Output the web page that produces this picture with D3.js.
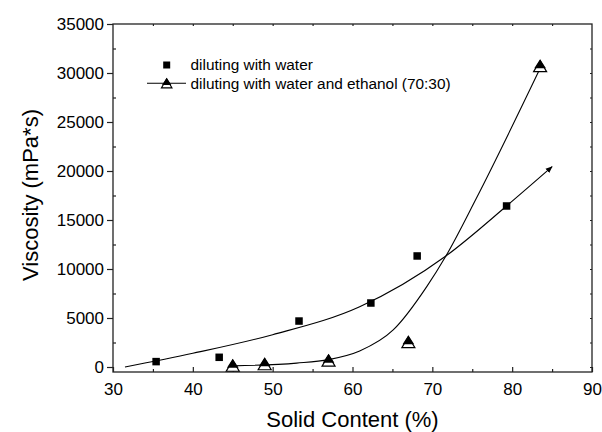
<!DOCTYPE html>
<html>
<head>
<meta charset="utf-8">
<script src="https://cdn.jsdelivr.net/npm/d3@7"></script>
<style>
  body { margin: 0; background: #fff; }
  svg { font-family: "Liberation Sans", Arial, sans-serif; }
</style>
</head>
<body>
<div id="chart"></div>
<script>
const waterX = [35.4, 43.3, 53.3, 62.3, 68.1, 79.3];
const waterY = [550, 990, 4690, 6530, 11330, 16430];
const ethX = [45.0, 49.0, 57.0, 67.0, 83.5];
const ethY = [180, 330, 700, 2580, 30750];

// hand-drawn trend lines
const waterFitX = [31.5, 40, 50, 60.9, 71.7, 79.3, 85];
const waterFitY = [0, 1400, 3300, 6150, 11330, 16430, 20440];
const ethFitX = [45, 53, 57, 60.9, 65.1, 69.3, 71.7, 75.5, 83.4];
const ethFitY = [120, 400, 750, 1630, 3780, 8200, 11330, 17200, 30300];

const xTicks = [30, 40, 50, 60, 70, 80, 90];
const yTicks = [0, 5000, 10000, 15000, 20000, 25000, 30000, 35000];
const legendLabels = ["diluting with water", "diluting with water and ethanol (70:30)"];

const W = 602, H = 432;
const margin = { top: 24, right: 10, bottom: 60, left: 113 };
const width = W - margin.left - margin.right;
const height = 372 - margin.top;

const svg = d3.select("#chart").append("svg")
    .attr("width", W)
    .attr("height", H);

const g = svg.append("g")
    .attr("transform", "translate(" + margin.left + "," + margin.top + ")");

const x = d3.scaleLinear().domain([30, 90]).range([0, width]);
const y = d3.scaleLinear().domain([-510, 35000]).range([height, 0]);

// arrow head for the water trend line
svg.append("defs").append("marker")
    .attr("id", "arrow")
    .attr("viewBox", "0 0 10 10")
    .attr("refX", 9).attr("refY", 5)
    .attr("markerWidth", 7).attr("markerHeight", 7)
    .attr("markerUnits", "userSpaceOnUse")
    .attr("orient", "auto")
    .append("path")
    .attr("d", "M0,1 L10,5 L0,9 Z")
    .attr("fill", "#000");

// axes
const axisColor = "#222";
const tickFont = "17px";

// bottom: major + minor ticks pointing in
g.append("g").attr("transform", "translate(0," + height + ")")
    .call(d3.axisBottom(x).tickValues(xTicks).tickSizeInner(-5).tickSizeOuter(0).tickPadding(11).tickFormat(d3.format("d")));
g.append("g").attr("transform", "translate(0," + height + ")")
    .call(d3.axisBottom(x).tickValues(d3.range(35, 90, 10)).tickSize(-3).tickFormat(""));

// left: major ticks out, minor ticks in
g.append("g")
    .call(d3.axisLeft(y).tickValues(yTicks).tickSizeInner(6).tickSizeOuter(0).tickPadding(3).tickFormat(d3.format("d")));
g.append("g")
    .call(d3.axisLeft(y).tickValues(d3.range(2500, 35000, 5000)).tickSize(-3).tickFormat(""));

// top and right: tiny ticks
g.append("g")
    .call(d3.axisTop(x).tickValues(d3.range(35, 90, 5)).tickSize(-2).tickFormat(""));
g.append("g").attr("transform", "translate(" + width + ",0)")
    .call(d3.axisRight(y).tickValues(d3.range(0, 35000, 2500)).tickSize(-2).tickFormat(""));

g.selectAll(".domain").remove();
g.selectAll(".tick line").attr("stroke", axisColor).attr("stroke-width", 1.2);
g.selectAll(".tick text").attr("fill", "#000").style("font-size", tickFont)
    .style("font-family", "'Liberation Sans', Arial, sans-serif");

// frame
g.append("rect")
    .attr("x", 0).attr("y", 0)
    .attr("width", width).attr("height", height)
    .attr("fill", "none")
    .attr("stroke", axisColor)
    .attr("stroke-width", 1.3);

// axis titles
svg.append("text")
    .attr("x", margin.left + width / 2)
    .attr("y", 427)
    .attr("text-anchor", "middle")
    .style("font-size", "22px")
    .text("Solid Content (%)");

svg.append("text")
    .attr("transform", "translate(38," + 195 + ") rotate(-90)")
    .attr("text-anchor", "middle")
    .style("font-size", "22px")
    .text("Viscosity (mPa*s)");

// trend lines
const line = d3.line()
    .x(d => x(d[0]))
    .y(d => y(d[1]))
    .curve(d3.curveMonotoneX);

g.append("path")
    .datum(d3.zip(waterFitX, waterFitY))
    .attr("d", line)
    .attr("fill", "none")
    .attr("stroke", "#000")
    .attr("stroke-width", 1.1)
    .attr("marker-end", "url(#arrow)");

g.append("path")
    .datum(d3.zip(ethFitX, ethFitY))
    .attr("d", line)
    .attr("fill", "none")
    .attr("stroke", "#000")
    .attr("stroke-width", 1.1);

// markers
function drawSquare(sel, cx, cy, s) {
    sel.append("rect")
        .attr("x", cx - s / 2).attr("y", cy - s / 2)
        .attr("width", s).attr("height", s)
        .attr("fill", "#000");
}
function drawTriangle(sel, cx, cy, k) {
    // hollow triangle underneath, filled one on top (Origin style)
    sel.append("path")
        .attr("d", `M${cx},${cy - 5 * k} L${cx + 6.5 * k},${cy + 6 * k} L${cx - 6.5 * k},${cy + 6 * k} Z`)
        .attr("fill", "#fff")
        .attr("stroke", "#000")
        .attr("stroke-width", 1.2);
    sel.append("path")
        .attr("d", `M${cx},${cy - 6.5 * k} L${cx + 5.8 * k},${cy + 2.5 * k} L${cx - 5.8 * k},${cy + 2.5 * k} Z`)
        .attr("fill", "#000");
}

const pts = g.append("g");
waterX.forEach((d, i) => drawSquare(pts, x(d), y(waterY[i]), 7.5));
ethX.forEach((d, i) => drawTriangle(pts, x(d), y(ethY[i]), 1));

// legend
const leg = svg.append("g").style("font-size", "15.4px");
drawSquare(leg, 166.7, 65, 7);
leg.append("text").attr("x", 190.5).attr("y", 70).text(legendLabels[0]);
leg.append("line")
    .attr("x1", 147).attr("x2", 186)
    .attr("y1", 83.3).attr("y2", 83.3)
    .attr("stroke", "#000").attr("stroke-width", 1.1);
drawTriangle(leg, 166.7, 83, 0.8);
leg.append("text").attr("x", 190.5).attr("y", 88.5).text(legendLabels[1]);
</script>
</body>
</html>
